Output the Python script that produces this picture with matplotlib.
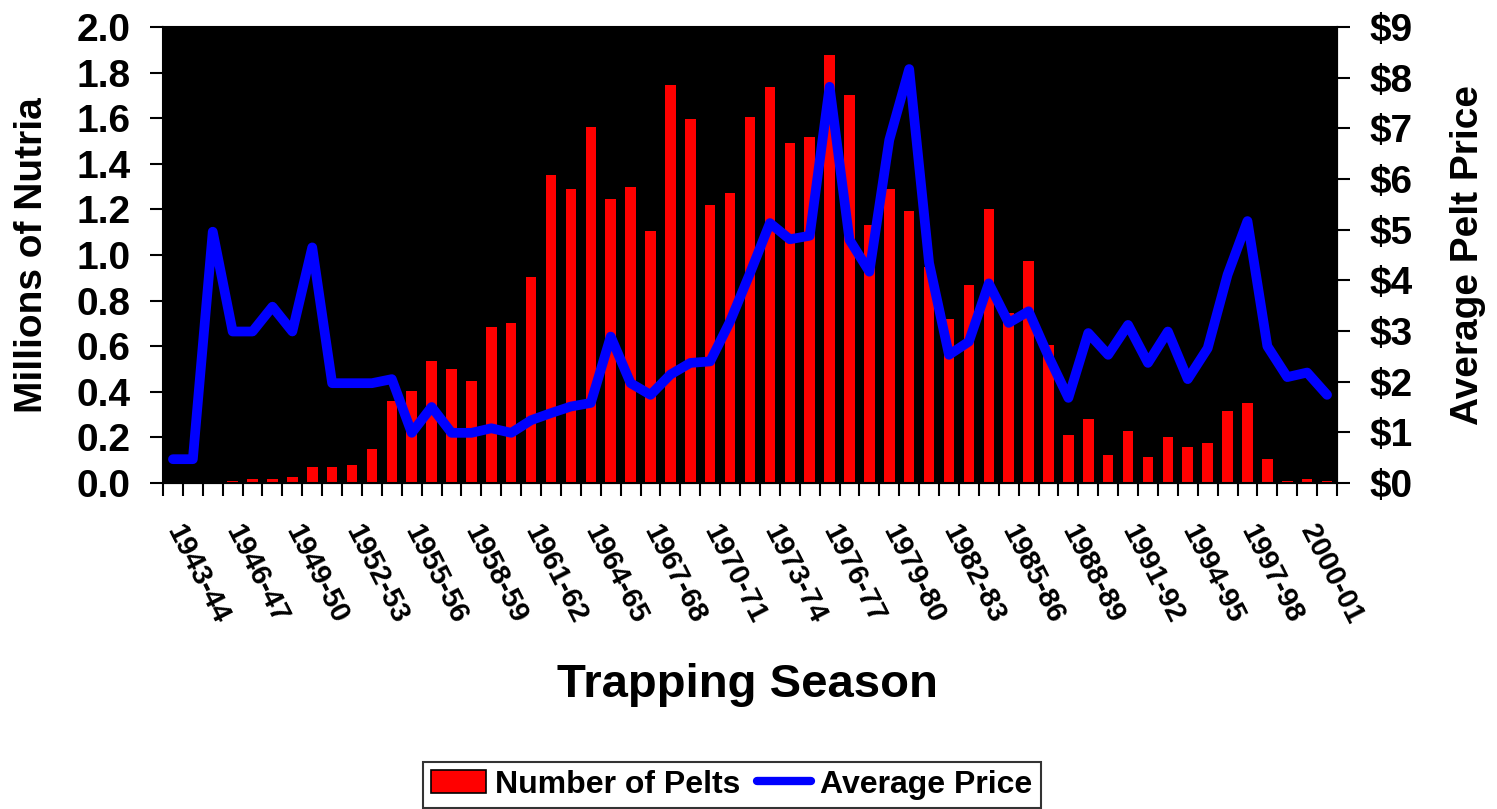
import matplotlib
matplotlib.use("Agg")
import matplotlib.pyplot as plt
from matplotlib.patches import Patch
from matplotlib.lines import Line2D

plt.rcParams['font.family'] = ['Liberation Sans', 'DejaVu Sans']
plt.rcParams['font.weight'] = 'bold'

seasons = ["1943-44", "1944-45", "1945-46", "1946-47", "1947-48", "1948-49", "1949-50",
           "1950-51", "1951-52", "1952-53", "1953-54", "1954-55", "1955-56", "1956-57",
           "1957-58", "1958-59", "1959-60", "1960-61", "1961-62", "1962-63", "1963-64",
           "1964-65", "1965-66", "1966-67", "1967-68", "1968-69", "1969-70", "1970-71",
           "1971-72", "1972-73", "1973-74", "1974-75", "1975-76", "1976-77", "1977-78",
           "1978-79", "1979-80", "1980-81", "1981-82", "1982-83", "1983-84", "1984-85",
           "1985-86", "1986-87", "1987-88", "1988-89", "1989-90", "1990-91", "1991-92",
           "1992-93", "1993-94", "1994-95", "1995-96", "1996-97", "1997-98", "1998-99",
           "1999-00", "2000-01", "2001-02"]

pelts_millions = [0.0, 0.0, 0.0, 0.010, 0.019, 0.019, 0.028, 0.072, 0.072, 0.080,
                  0.150, 0.361, 0.405, 0.536, 0.500, 0.449, 0.686, 0.703, 0.905, 1.352,
                  1.291, 1.563, 1.247, 1.300, 1.107, 1.747, 1.598, 1.221, 1.273, 1.607,
                  1.738, 1.493, 1.519, 1.879, 1.703, 1.133, 1.291, 1.194, 0.949, 0.721,
                  0.870, 1.203, 0.747, 0.975, 0.607, 0.212, 0.282, 0.124, 0.229, 0.115,
                  0.203, 0.159, 0.177, 0.317, 0.352, 0.107, 0.010, 0.019, 0.010]

avg_price = [0.47, 0.47, 4.96, 2.99, 2.99, 3.48, 2.99, 4.65, 1.97, 1.97,
             1.97, 2.05, 0.99, 1.50, 0.99, 0.99, 1.08, 0.99, 1.24, 1.38,
             1.51, 1.58, 2.89, 1.97, 1.74, 2.14, 2.37, 2.40, 3.19, 4.14,
             5.13, 4.81, 4.88, 7.82, 4.80, 4.17, 6.77, 8.17, 4.34, 2.53,
             2.79, 3.94, 3.16, 3.39, 2.50, 1.68, 2.96, 2.53, 3.12, 2.37,
             2.99, 2.05, 2.66, 4.11, 5.17, 2.70, 2.09, 2.18, 1.74]

label_every = 3
left_ticks = [0.0, 0.2, 0.4, 0.6, 0.8, 1.0, 1.2, 1.4, 1.6, 1.8, 2.0]
right_ticks = [0, 1, 2, 3, 4, 5, 6, 7, 8, 9]

W, H = 1497, 809
fig = plt.figure(figsize=(W / 100, H / 100), dpi=100)
L, R, T, B = 163, 1337, 27, 483
ax = fig.add_axes([L / W, 1 - B / H, (R - L) / W, (B - T) / H])
ax.set_facecolor('black')

n = len(seasons)
x = list(range(n))
ax.bar(x, pelts_millions, width=0.53, color='#FF0000', zorder=2)
ax.set_xlim(-0.5, n - 0.5)
ax.set_ylim(0, 2.0)
ax.set_yticks(left_ticks)
ax.set_yticklabels([f"{v:.1f}" for v in left_ticks])
ax.tick_params(axis='y', which='major', direction='out', length=9.5, width=1.5,
               labelsize=28, pad=14)

# boundary ticks (major) and labels at centers (minor)
ax.set_xticks([i - 0.5 for i in range(n + 1)])
ax.set_xticklabels([])
lab_pos = x[::label_every]
ax.set_xticks(lab_pos, minor=True)
ax.set_xticklabels([seasons[i] for i in lab_pos], minor=True, rotation=-63,
                   ha='left', va='center', rotation_mode='anchor', fontsize=21,
                   fontweight='bold')
ax.tick_params(axis='x', which='major', direction='out', length=9, width=1.5)
ax.tick_params(axis='x', which='minor', length=0, pad=31)
for s in ax.spines.values():
    s.set_color('black')
    s.set_linewidth(1.5)

ax.set_ylabel('Millions of Nutria', fontsize=28, fontweight='bold', va='center')
ax.yaxis.set_label_coords((32 - L) / (R - L), 0.5)

ax2 = ax.twinx()
ax2.plot(x, avg_price, color='#0000FF', linewidth=7, solid_joinstyle='round',
         solid_capstyle='round', zorder=3)
ax2.set_ylim(0, 9)
ax2.set_yticks(right_ticks)
ax2.set_yticklabels([f"${v}" for v in right_ticks])
ax2.tick_params(axis='y', direction='out', length=9.5, width=1.5, labelsize=28, pad=14)
ax2.set_ylabel('Average Pelt Price', fontsize=28, fontweight='bold', rotation=90,
               va='center')
ax2.yaxis.set_label_coords((1468 - L) / (R - L), 0.5)

fig.text(747 / W, 1 - 697 / H, 'Trapping Season', fontsize=34, fontweight='bold',
         ha='center', va='baseline')

handles = [Patch(facecolor='#FF0000', edgecolor='black', linewidth=1.2),
           Line2D([0], [0], color='#0000FF', linewidth=6, solid_capstyle='round')]
leg = fig.legend(handles, ['Number of Pelts', 'Average Price'], ncol=2,
                 loc='lower center', bbox_to_anchor=(732 / W, 1.5 / H),
                 prop={'size': 23, 'weight': 'bold'}, frameon=True, fancybox=False,
                 handlelength=1.7, handletextpad=0.3, columnspacing=0.5,
                 borderpad=0.25, borderaxespad=0)
leg.get_frame().set_edgecolor('black')
leg.get_frame().set_linewidth(1.5)

fig.savefig('out.png', dpi=100)
